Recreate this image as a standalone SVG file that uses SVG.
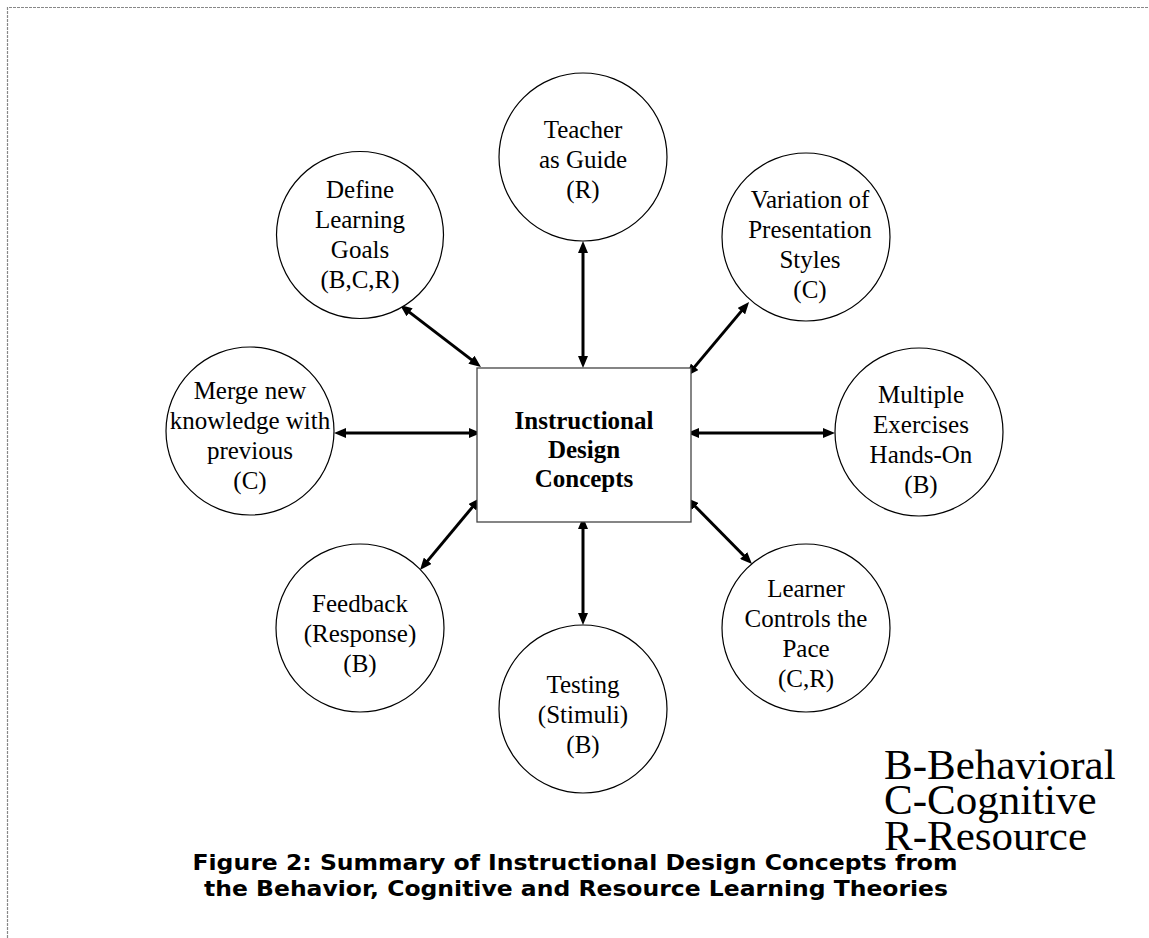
<svg xmlns="http://www.w3.org/2000/svg" width="1149" height="938" viewBox="0 0 1149 938">
  <style>
    .node circle { fill: #ffffff; stroke: #000000; stroke-width: 1.2; }
    .node text { font-family: "Liberation Serif", "Times New Roman", serif; font-size: 25px; fill: #000000; text-anchor: middle; }
    .hub rect { fill: #ffffff; stroke: #444444; stroke-width: 1.3; }
    .hub text { font-family: "Liberation Serif", "Times New Roman", serif; font-size: 25px; font-weight: bold; fill: #000000; text-anchor: middle; }
    .links line { stroke: #000000; stroke-width: 3; marker-start: url(#head); marker-end: url(#head); }
    .legend text { font-family: "Liberation Serif", "Times New Roman", serif; font-size: 43px; fill: #000000; }
    .caption text { font-family: "DejaVu Sans", Verdana, sans-serif; font-size: 20.5px; font-weight: bold; fill: #000000; text-anchor: middle; }
    .frame { stroke: #888888; stroke-width: 1.2; stroke-dasharray: 3 1; fill: none; }
  </style>
  <defs>
    <marker id="head" viewBox="0 0 12 10" refX="4" refY="5" markerWidth="12" markerHeight="10" markerUnits="userSpaceOnUse" orient="auto-start-reverse">
      <path d="M0,0 L12,5 L0,10 z" fill="#000000"/>
    </marker>
  </defs>

  <rect x="0" y="0" width="1149" height="938" fill="#ffffff"/>
  <!-- page frame: top and left edges only -->
  <path class="frame" d="M7.5,938 L7.5,7.5 L1149,7.5"/>

  <!-- connectors between the hub and the concept circles -->
  <g id="connectors" class="links">
    <line x1="583" y1="249" x2="583" y2="360"/>
    <line x1="406.4" y1="309.9" x2="474.6" y2="362.1"/>
    <line x1="743.9" y1="308.1" x2="692.1" y2="369.9"/>
    <line x1="342" y1="433" x2="473" y2="433"/>
    <line x1="695" y1="433" x2="827" y2="433"/>
    <line x1="425.1" y1="563.9" x2="474.9" y2="504.1"/>
    <line x1="583" y1="525" x2="583" y2="617"/>
    <line x1="692.6" y1="503.7" x2="746.4" y2="558.3"/>
  </g>

  <g id="hub" class="hub">
    <rect x="477" y="368" width="214" height="154"/>
    <text x="584" y="429">Instructional</text>
    <text x="584" y="458">Design</text>
    <text x="584" y="487">Concepts</text>
  </g>

  <g id="teacher" class="node">
    <circle cx="583" cy="157" r="84"/>
    <text x="583" y="138">Teacher</text>
    <text x="583" y="168">as Guide</text>
    <text x="583" y="198">(R)</text>
  </g>

  <g id="goals" class="node">
    <circle cx="360" cy="235" r="83.5"/>
    <text x="360" y="198">Define</text>
    <text x="360" y="228">Learning</text>
    <text x="360" y="258">Goals</text>
    <text x="360" y="288">(B,C,R)</text>
  </g>

  <g id="variation" class="node">
    <circle cx="806" cy="237" r="84"/>
    <text x="810" y="208">Variation of</text>
    <text x="810" y="238">Presentation</text>
    <text x="810" y="268">Styles</text>
    <text x="810" y="298">(C)</text>
  </g>

  <g id="merge" class="node">
    <circle cx="250" cy="431" r="84"/>
    <text x="250" y="399">Merge new</text>
    <text x="250" y="429">knowledge with</text>
    <text x="250" y="459">previous</text>
    <text x="250" y="489">(C)</text>
  </g>

  <g id="exercises" class="node">
    <circle cx="919" cy="432" r="84"/>
    <text x="921" y="403">Multiple</text>
    <text x="921" y="433">Exercises</text>
    <text x="921" y="463">Hands-On</text>
    <text x="921" y="493">(B)</text>
  </g>

  <g id="feedback" class="node">
    <circle cx="360" cy="628" r="84"/>
    <text x="360" y="612">Feedback</text>
    <text x="360" y="642">(Response)</text>
    <text x="360" y="672">(B)</text>
  </g>

  <g id="testing" class="node">
    <circle cx="583" cy="709" r="84"/>
    <text x="583" y="693">Testing</text>
    <text x="583" y="723">(Stimuli)</text>
    <text x="583" y="753">(B)</text>
  </g>

  <g id="pace" class="node">
    <circle cx="806" cy="628" r="84"/>
    <text x="806" y="597">Learner</text>
    <text x="806" y="627">Controls the</text>
    <text x="806" y="657">Pace</text>
    <text x="806" y="687">(C,R)</text>
  </g>

  <g id="legend" class="legend">
    <text x="884" y="779">B-Behavioral</text>
    <text x="884" y="814">C-Cognitive</text>
    <text x="884" y="850">R-Resource</text>
  </g>

  <g id="caption" class="caption">
    <text x="575" y="870" textLength="765" lengthAdjust="spacingAndGlyphs">Figure 2: Summary of Instructional Design Concepts from</text>
    <text x="576" y="896" textLength="744" lengthAdjust="spacingAndGlyphs">the Behavior, Cognitive and Resource Learning Theories</text>
  </g>
</svg>
